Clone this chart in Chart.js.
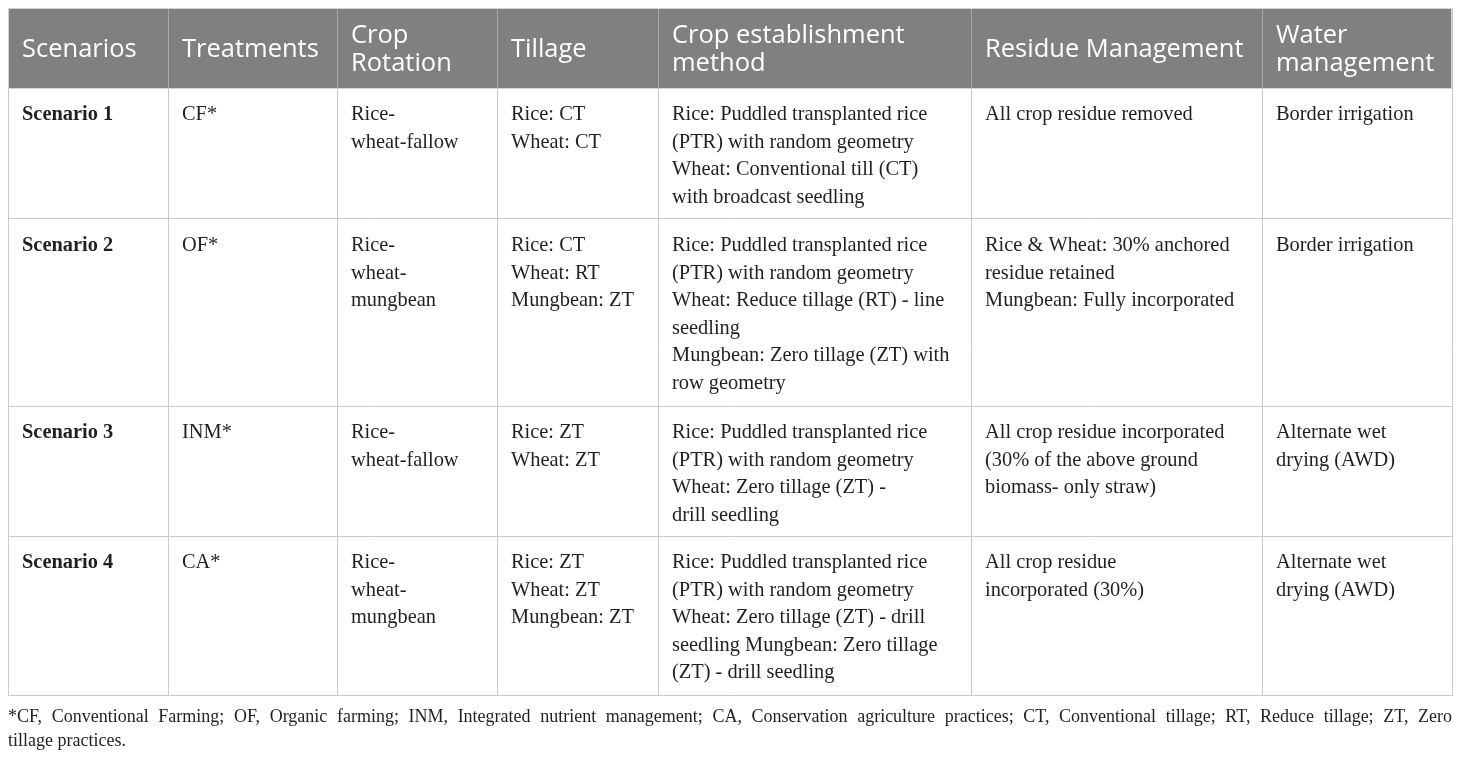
<!DOCTYPE html>
<html>
<head>
<meta charset="utf-8">
<script src="https://cdn.jsdelivr.net/npm/chart.js@4.4.1/dist/chart.umd.min.js"></script>
<style>
  html, body { margin: 0; padding: 0; background: #fff; }
  #wrap { position: relative; width: 1460px; height: 757px; }
</style>
</head>
<body>
<div id="wrap"><canvas id="tbl"></canvas></div>
<script>
// ── Table content (line breaks as printed) ──
const headings = [
  ['Scenarios'], ['Treatments'], ['Crop', 'Rotation'], ['Tillage'],
  ['Crop establishment', 'method'], ['Residue Management'], ['Water', 'management']
];

const scenarios  = ['Scenario 1', 'Scenario 2', 'Scenario 3', 'Scenario 4'];
const treatments = ['CF*', 'OF*', 'INM*', 'CA*'];
const rotations  = [
  ['Rice-', 'wheat-fallow'],
  ['Rice-', 'wheat-', 'mungbean'],
  ['Rice-', 'wheat-fallow'],
  ['Rice-', 'wheat-', 'mungbean']
];
const tillage = [
  ['Rice: CT', 'Wheat: CT'],
  ['Rice: CT', 'Wheat: RT', 'Mungbean: ZT'],
  ['Rice: ZT', 'Wheat: ZT'],
  ['Rice: ZT', 'Wheat: ZT', 'Mungbean: ZT']
];
const establishment = [
  ['Rice: Puddled transplanted rice', '(PTR) with random geometry', 'Wheat: Conventional till (CT)', 'with broadcast seedling'],
  ['Rice: Puddled transplanted rice', '(PTR) with random geometry', 'Wheat: Reduce tillage (RT) - line', 'seedling', 'Mungbean: Zero tillage (ZT) with', 'row geometry'],
  ['Rice: Puddled transplanted rice', '(PTR) with random geometry', 'Wheat: Zero tillage (ZT) -', 'drill seedling'],
  ['Rice: Puddled transplanted rice', '(PTR) with random geometry', 'Wheat: Zero tillage (ZT) - drill', 'seedling Mungbean: Zero tillage', '(ZT) - drill seedling']
];
const residue = [
  ['All crop residue removed'],
  ['Rice & Wheat: 30% anchored', 'residue retained', 'Mungbean: Fully incorporated'],
  ['All crop residue incorporated', '(30% of the above ground', 'biomass- only straw)'],
  ['All crop residue', 'incorporated (30%)']
];
const water = [
  ['Border irrigation'],
  ['Border irrigation'],
  ['Alternate wet', 'drying (AWD)'],
  ['Alternate wet', 'drying (AWD)']
];
const footnote = [
  '*CF, Conventional Farming; OF, Organic farming; INM, Integrated nutrient management; CA, Conservation agriculture practices; CT, Conventional tillage; RT, Reduce tillage; ZT, Zero',
  'tillage practices.'
];

// ── Layout (table units) ──
const COL_EDGES = [0, 160, 329, 489, 650, 963, 1254, 1444];
const ROW_EDGES = [0, 80, 211, 398, 528, 687];
const PAD_X = 14;
const LINE_H = 27.5;
const HEAD_LINE_H = 28;

const columns = [scenarios, treatments, rotations, tillage, establishment, residue, water];

// one anchor point per body cell (top-left corner)
const cellPoints = [];
scenarios.forEach(function (_, r) {
  columns.forEach(function (col, c) {
    const v = col[r];
    cellPoints.push({ x: COL_EDGES[c], y: ROW_EDGES[r + 1], lines: Array.isArray(v) ? v : [v], bold: c === 0 });
  });
});

const RULE = '#c9c9c9';
const HEAD_BG = '#7f807f';
const INK = '#231f20';
const BODY_FONT = '20.4px "Liberation Serif", "Times New Roman", serif';
const BOLD_FONT = 'bold 20.4px "Liberation Serif", "Times New Roman", serif';
const HEAD_FONT = '25.5px "Open Sans", sans-serif';
const NOTE_FONT = '18px "Liberation Serif", "Times New Roman", serif';

function drawJustified(ctx, text, x, y, width) {
  const words = text.split(' ');
  const widths = words.map(function (w) { return ctx.measureText(w).width; });
  const total = widths.reduce(function (a, b) { return a + b; }, 0);
  const gap = words.length > 1 ? (width - total) / (words.length - 1) : 0;
  let cx = x;
  words.forEach(function (w, i) {
    ctx.fillText(w, cx, y);
    cx += widths[i] + gap;
  });
}

const tablePlugin = {
  id: 'tableCells',
  beforeDatasetsDraw: function (chart) {
    const ctx = chart.ctx, xs = chart.scales.x, ys = chart.scales.y;
    const top = ys.getPixelForValue(ROW_EDGES[0]);
    const bot = ys.getPixelForValue(ROW_EDGES[1]);
    const l = xs.getPixelForValue(COL_EDGES[0]);
    const r = xs.getPixelForValue(COL_EDGES[COL_EDGES.length - 1]);
    ctx.save();
    ctx.fillStyle = HEAD_BG;
    ctx.fillRect(l, top, r - l, bot - top);
    ctx.strokeStyle = '#a6a7a6';
    ctx.lineWidth = 1;
    ctx.beginPath();
    COL_EDGES.slice(1, -1).forEach(function (v) {
      const px = Math.round(xs.getPixelForValue(v)) + 0.5;
      ctx.moveTo(px, top + 1);
      ctx.lineTo(px, bot);
    });
    ctx.stroke();
    ctx.strokeStyle = '#d4d4d4';
    ctx.strokeRect(Math.round(l) + 0.5, Math.round(top) + 0.5, Math.round(r - l) - 1, Math.round(bot - top));

    // headings
    ctx.fillStyle = '#ffffff';
    ctx.font = HEAD_FONT;
    ctx.textBaseline = 'middle';
    ctx.textAlign = 'left';
    const cy = (top + bot) / 2 + 2;
    headings.forEach(function (lines, c) {
      const x0 = xs.getPixelForValue(COL_EDGES[c]) + PAD_X;
      const y0 = cy - (lines.length - 1) * HEAD_LINE_H / 2;
      lines.forEach(function (t, i) { ctx.fillText(t, x0, y0 + i * HEAD_LINE_H); });
    });
    ctx.restore();
  },
  afterDatasetsDraw: function (chart) {
    const ctx = chart.ctx, xs = chart.scales.x, ys = chart.scales.y;
    const meta = chart.getDatasetMeta(0);
    ctx.save();
    ctx.fillStyle = INK;
    ctx.textBaseline = 'middle';
    ctx.textAlign = 'left';
    meta.data.forEach(function (pt, i) {
      const cell = cellPoints[i];
      ctx.font = cell.bold ? BOLD_FONT : BODY_FONT;
      cell.lines.forEach(function (t, k) {
        ctx.fillText(t, pt.x + PAD_X, pt.y + 27 + k * LINE_H);
      });
    });

    // footnote under the table
    const l = xs.getPixelForValue(COL_EDGES[0]);
    const r = xs.getPixelForValue(COL_EDGES[COL_EDGES.length - 1]);
    const fy = ys.getPixelForValue(ROW_EDGES[ROW_EDGES.length - 1]) + 22;
    ctx.font = NOTE_FONT;
    drawJustified(ctx, footnote[0], l, fy, r - l);
    ctx.fillText(footnote[1], l, fy + 24);
    ctx.restore();
  }
};

new Chart(document.getElementById('tbl'), {
  type: 'scatter',
  data: {
    datasets: [{
      data: cellPoints.map(function (p) { return { x: p.x, y: p.y }; }),
      pointRadius: 0,
      pointHoverRadius: 0
    }]
  },
  options: {
    responsive: true,
    maintainAspectRatio: false,
    animation: false,
    events: [],
    layout: { padding: { left: 8, top: 8, right: 8, bottom: 62 } },
    plugins: { legend: { display: false }, tooltip: { enabled: false } },
    scales: {
      x: {
        type: 'linear',
        min: COL_EDGES[0],
        max: COL_EDGES[COL_EDGES.length - 1],
        afterBuildTicks: function (scale) { scale.ticks = COL_EDGES.map(function (v) { return { value: v }; }); },
        ticks: { display: false },
        grid: { color: RULE, lineWidth: 1, drawTicks: false },
        border: { color: RULE }
      },
      y: {
        type: 'linear',
        reverse: true,
        min: ROW_EDGES[0],
        max: ROW_EDGES[ROW_EDGES.length - 1],
        afterBuildTicks: function (scale) { scale.ticks = ROW_EDGES.map(function (v) { return { value: v }; }); },
        ticks: { display: false },
        grid: { color: RULE, lineWidth: 1, drawTicks: false },
        border: { color: RULE }
      }
    }
  },
  plugins: [tablePlugin]
});
</script>
</body>
</html>
